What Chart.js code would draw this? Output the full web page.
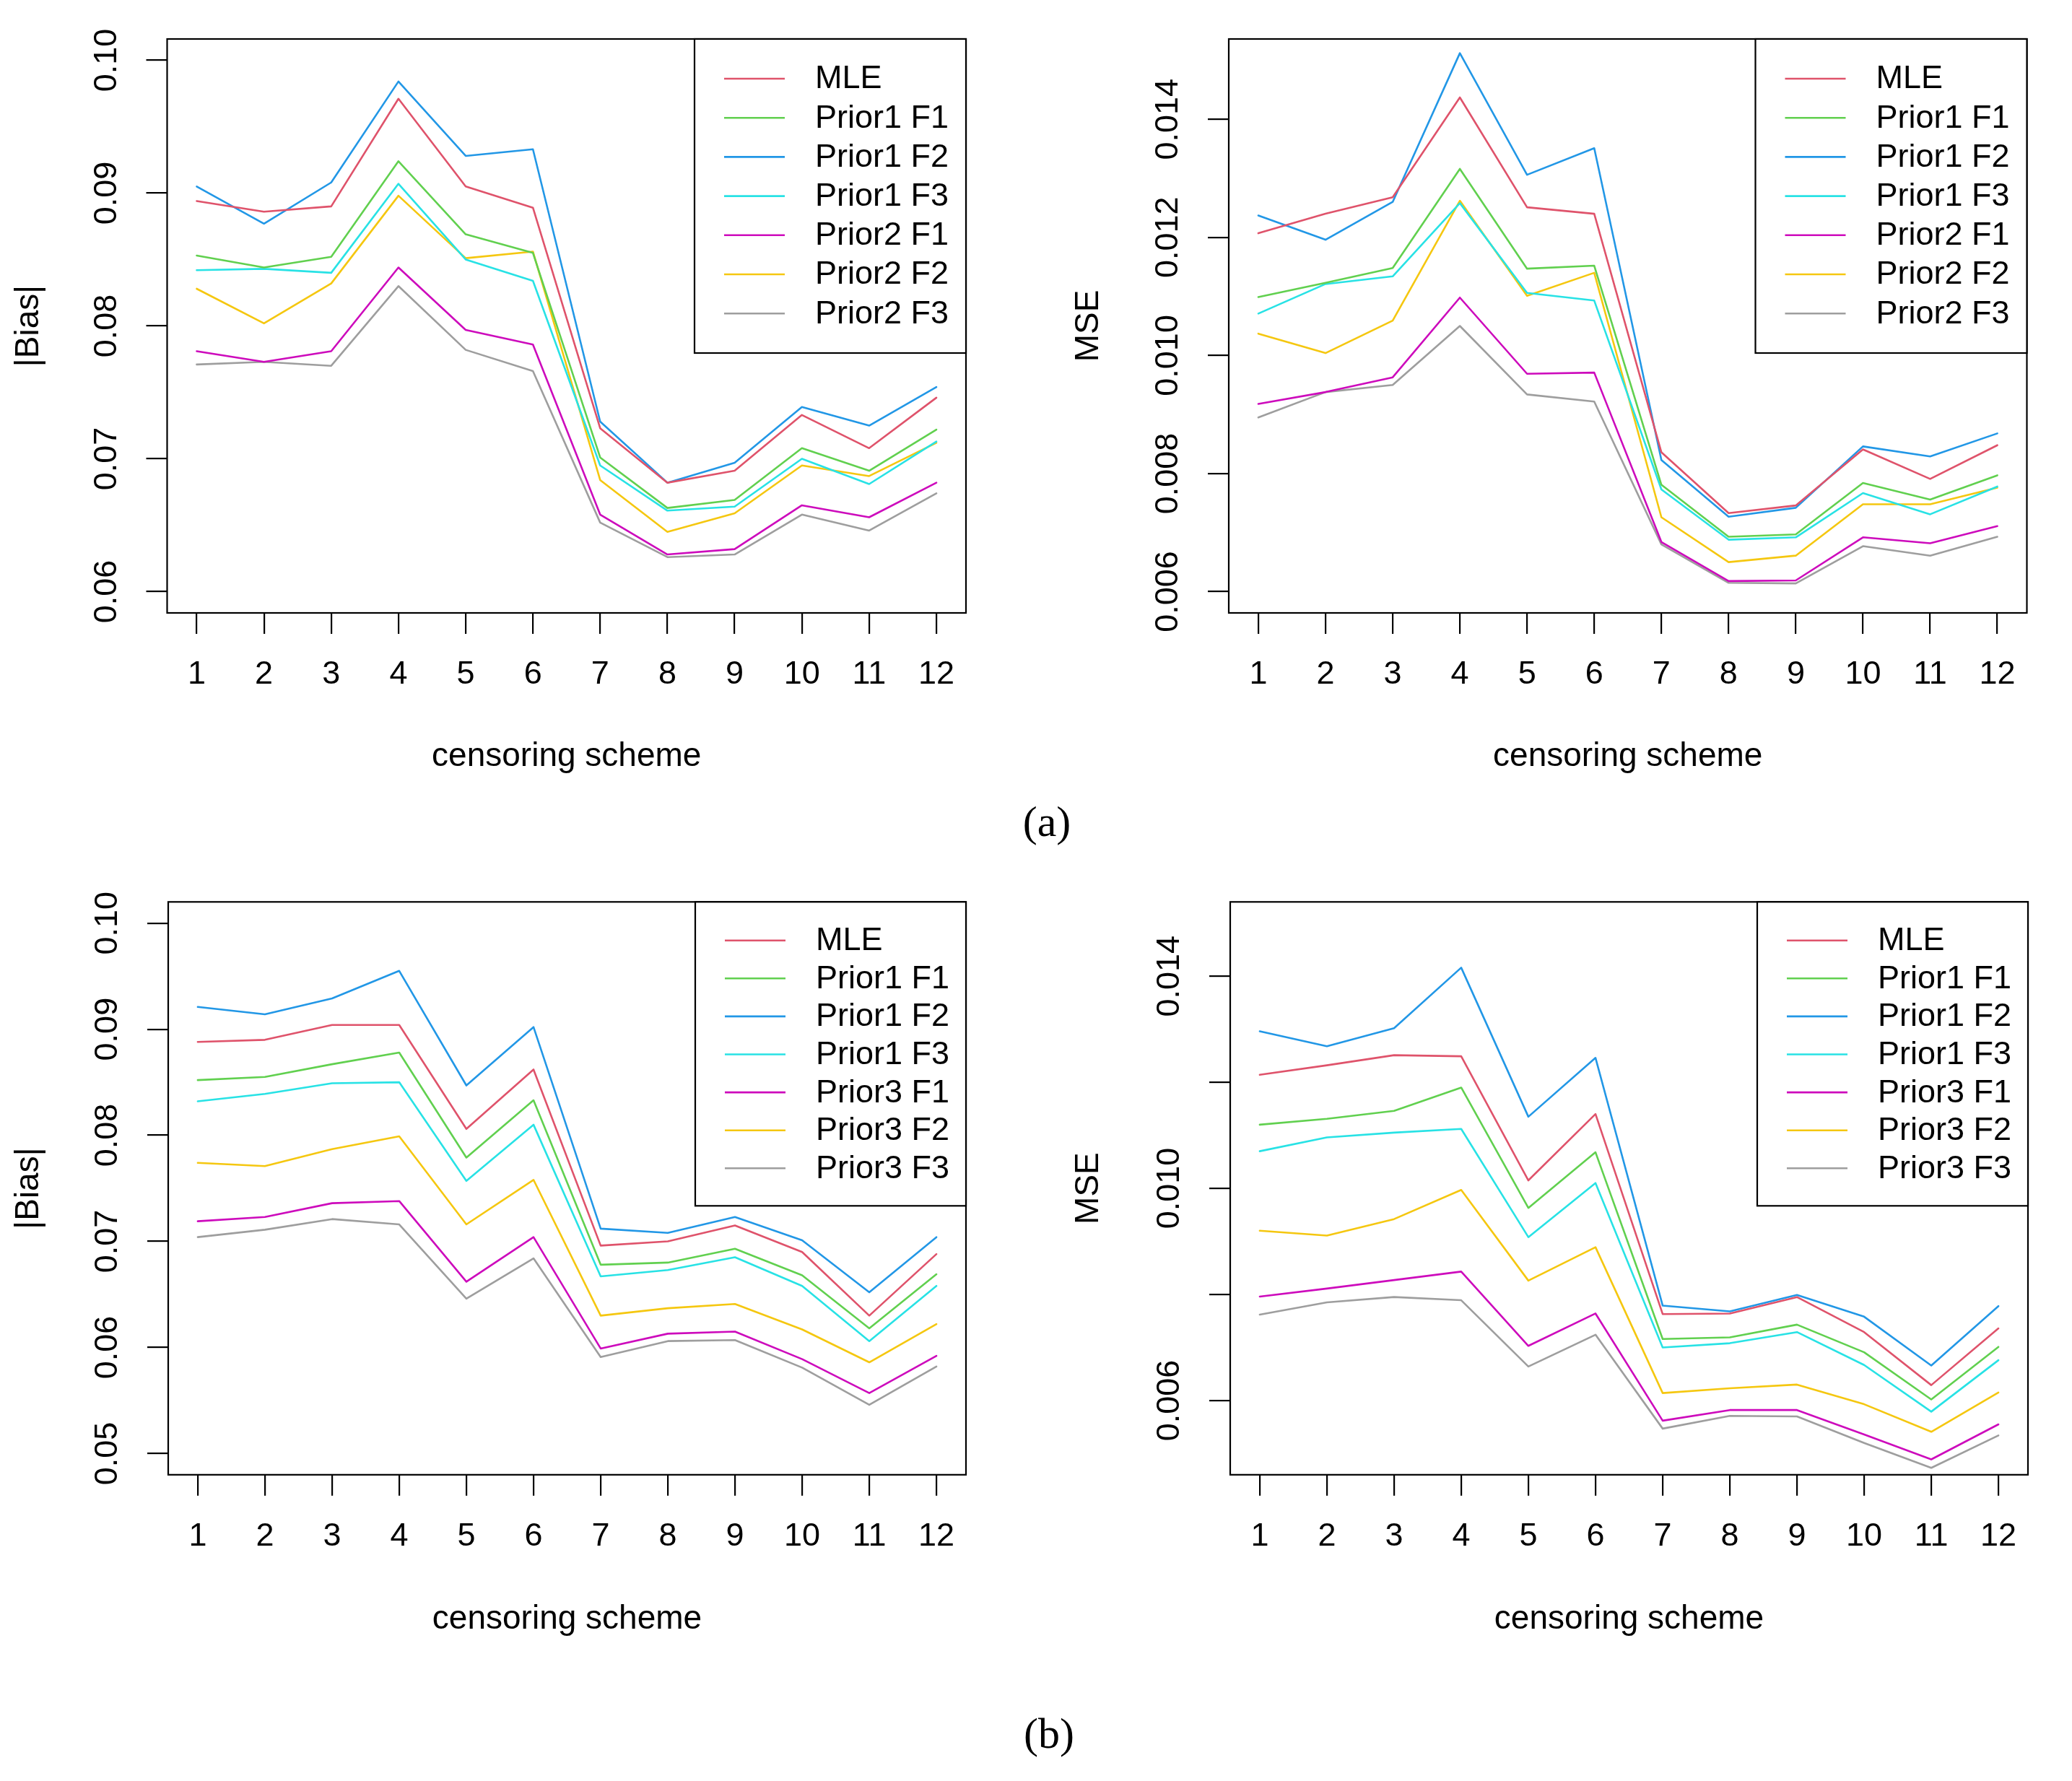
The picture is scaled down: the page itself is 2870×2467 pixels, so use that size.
<!DOCTYPE html>
<html><head><meta charset="utf-8">
<script src="https://cdn.jsdelivr.net/npm/chart.js@4.4.1/dist/chart.umd.min.js"></script>
<style>
html,body{margin:0;padding:0;background:#fff;}
body{width:2870px;height:2467px;position:relative;overflow:hidden;}
canvas{position:absolute;}
.lab{position:absolute;font-family:"Liberation Serif","DejaVu Serif",serif;font-size:60px;line-height:60px;width:200px;text-align:center;color:#000;}
</style></head><body>
<canvas id="c1" style="left:0px;top:0px"></canvas>
<canvas id="c2" style="left:1435px;top:0px"></canvas>
<canvas id="c3" style="left:0px;top:1200px"></canvas>
<canvas id="c4" style="left:1435px;top:1200px"></canvas>
<div class="lab" style="left:1350px;top:1108px">(a)</div>
<div class="lab" style="left:1353px;top:2371px">(b)</div>
<script>
// ---------- DATA ----------
const categories = [1,2,3,4,5,6,7,8,9,10,11,12];
const labelsA = ["MLE","Prior1 F1","Prior1 F2","Prior1 F3","Prior2 F1","Prior2 F2","Prior2 F3"];
const labelsB = ["MLE","Prior1 F1","Prior1 F2","Prior1 F3","Prior3 F1","Prior3 F2","Prior3 F3"];
const seriesColors = ["#DF536B","#61D04F","#2297E6","#28E2E5","#CD0BBC","#F5C710","#9E9E9E"];

// (a) |Bias|
const biasA_MLE = [0.0894,0.0886,0.0890,0.0971,0.0905,0.0889,0.0723,0.0682,0.0691,0.0733,0.0708,0.0746];
const biasA_P1F1 = [0.0853,0.0844,0.0852,0.0924,0.0869,0.0855,0.0701,0.0663,0.0669,0.0708,0.0691,0.0722];
const biasA_P1F2 = [0.0905,0.0877,0.0908,0.0984,0.0928,0.0933,0.0728,0.0682,0.0697,0.0739,0.0725,0.0754];
const biasA_P1F3 = [0.0842,0.0843,0.0840,0.0907,0.0850,0.0834,0.0695,0.0661,0.0664,0.0700,0.0681,0.0713];
const biasA_P2F1 = [0.0781,0.0773,0.0781,0.0844,0.0797,0.0786,0.0658,0.0628,0.0632,0.0665,0.0656,0.0682];
const biasA_P2F2 = [0.0828,0.0802,0.0832,0.0898,0.0851,0.0856,0.0684,0.0645,0.0659,0.0695,0.0687,0.0712];
const biasA_P2F3 = [0.0771,0.0773,0.0770,0.0830,0.0782,0.0766,0.0652,0.0626,0.0628,0.0658,0.0646,0.0674];

// (a) MSE
const mseA_MLE = [0.01207,0.01240,0.01268,0.01437,0.01251,0.01240,0.00836,0.00733,0.00746,0.00841,0.00791,0.00848];
const mseA_P1F1 = [0.01099,0.01123,0.01148,0.01316,0.01147,0.01152,0.00781,0.00693,0.00697,0.00784,0.00756,0.00797];
const mseA_P1F2 = [0.01237,0.01196,0.01260,0.01512,0.01306,0.01351,0.00823,0.00727,0.00742,0.00846,0.00829,0.00868];
const mseA_P1F3 = [0.01071,0.01121,0.01134,0.01258,0.01106,0.01093,0.00773,0.00688,0.00692,0.00767,0.00731,0.00778];
const mseA_P2F1 = [0.00918,0.00938,0.00963,0.01098,0.00969,0.00971,0.00684,0.00618,0.00619,0.00692,0.00682,0.00711];
const mseA_P2F2 = [0.01037,0.01004,0.01059,0.01262,0.01101,0.01140,0.00726,0.00650,0.00661,0.00748,0.00748,0.00776];
const mseA_P2F3 = [0.00895,0.00938,0.00950,0.01050,0.00934,0.00922,0.00680,0.00615,0.00614,0.00677,0.00661,0.00693];

// (b) |Bias|
const biasB_MLE = [0.0888,0.0890,0.0904,0.0904,0.0806,0.0862,0.0696,0.0700,0.0715,0.0690,0.0630,0.0688];
const biasB_P1F1 = [0.0852,0.0855,0.0867,0.0878,0.0779,0.0833,0.0678,0.0680,0.0693,0.0668,0.0618,0.0669];
const biasB_P1F2 = [0.0921,0.0914,0.0929,0.0955,0.0847,0.0902,0.0712,0.0708,0.0723,0.0701,0.0652,0.0704];
const biasB_P1F3 = [0.0832,0.0839,0.0849,0.0850,0.0757,0.0810,0.0667,0.0673,0.0685,0.0658,0.0606,0.0658];
const biasB_P3F1 = [0.0719,0.0723,0.0736,0.0738,0.0662,0.0704,0.0599,0.0613,0.0615,0.0589,0.0557,0.0592];
const biasB_P3F2 = [0.0774,0.0771,0.0787,0.0799,0.0716,0.0758,0.0630,0.0637,0.0641,0.0617,0.0586,0.0622];
const biasB_P3F3 = [0.0704,0.0711,0.0721,0.0716,0.0646,0.0684,0.0591,0.0606,0.0607,0.0581,0.0546,0.0582];

// (b) MSE
const mseB_MLE = [0.01214,0.01232,0.01251,0.01249,0.01015,0.01140,0.00763,0.00764,0.00795,0.00729,0.00629,0.00736];
const mseB_P1F1 = [0.01120,0.01131,0.01146,0.01190,0.00963,0.01068,0.00716,0.00719,0.00743,0.00691,0.00602,0.00701];
const mseB_P1F2 = [0.01296,0.01268,0.01302,0.01416,0.01135,0.01246,0.00779,0.00768,0.00799,0.00758,0.00666,0.00778];
const mseB_P1F3 = [0.01070,0.01096,0.01105,0.01112,0.00908,0.01010,0.00700,0.00708,0.00729,0.00667,0.00579,0.00676];
const mseB_P3F1 = [0.00796,0.00811,0.00827,0.00843,0.00703,0.00764,0.00562,0.00582,0.00582,0.00536,0.00489,0.00555];
const mseB_P3F2 = [0.00920,0.00911,0.00942,0.00997,0.00826,0.00889,0.00614,0.00623,0.00630,0.00593,0.00541,0.00615];
const mseB_P3F3 = [0.00762,0.00785,0.00795,0.00789,0.00664,0.00724,0.00547,0.00571,0.00570,0.00520,0.00473,0.00534];

// Tick values / labels
const biasTicksA = [0.06,0.07,0.08,0.09,0.10];
const biasTickLabelsA = ["0.06","0.07","0.08","0.09","0.10"];
const mseTicksA = [0.006,0.008,0.010,0.012,0.014];
const mseTickLabelsA = ["0.006","0.008","0.010","0.012","0.014"];
const biasTicksB = [0.05,0.06,0.07,0.08,0.09,0.10];
const biasTickLabelsB = ["0.05","0.06","0.07","0.08","0.09","0.10"];
const mseTicksB = [0.006,0.008,0.010,0.012,0.014];
const mseTickLabelsB = ["0.006","","0.010","","0.014"];

// ---------- DRAWING ----------
const FONT = '"Liberation Sans", Arial, Helvetica, sans-serif';
const FS = 45;      // ticks, legend
const FS_T = 46;    // axis titles

function makePanel(id, p) {
  const canvas = document.getElementById(id);
  canvas.width = p.W; canvas.height = p.H;
  const a = p.area;
  const lineH = FS_T * 1.2;
  const datasets = p.series.map((s, i) => ({
    label: p.labels[i],
    data: s.map((v, j) => ({x: categories[j], y: v})),
    borderColor: seriesColors[i],
    backgroundColor: seriesColors[i],
    borderWidth: 2.6,
    pointRadius: 0,
    tension: 0,
    fill: false,
    borderJoinStyle: 'round',
    borderCapStyle: 'round'
  }));
  const framePlugin = {
    id: 'frame',
    afterDatasetsDraw(chart) {
      const ctx = chart.ctx, ca = chart.chartArea;
      ctx.save();
      ctx.strokeStyle = '#000'; ctx.lineWidth = 2.2;
      ctx.strokeRect(ca.left, ca.top, ca.right - ca.left, ca.bottom - ca.top);
      // legend
      const L = p.legend;
      const lx = ca.right - L.width, ly = ca.top;
      ctx.fillStyle = '#fff';
      ctx.fillRect(lx, ly, L.width, L.height);
      ctx.strokeRect(lx, ly, L.width, L.height);
      ctx.font = FS + 'px ' + FONT;
      ctx.textAlign = 'left'; ctx.textBaseline = 'middle';
      chart.data.datasets.forEach((ds, i) => {
        const yy = ly + L.first + i * L.row;
        ctx.strokeStyle = ds.borderColor; ctx.lineWidth = 2.6;
        ctx.beginPath(); ctx.moveTo(lx + 41, yy); ctx.lineTo(lx + 125, yy); ctx.stroke();
        ctx.fillStyle = '#000';
        ctx.fillText(ds.label, lx + 167, yy + 1);
      });
      // y tick labels (rotated, R style)
      const ys = chart.scales.y;
      ctx.fillStyle = '#000';
      ctx.textAlign = 'center'; ctx.textBaseline = 'middle';
      p.yTicks.forEach((v, i) => {
        const t = p.yTickLabels[i];
        if (!t) return;
        const py = ys.getPixelForValue(v);
        ctx.save();
        ctx.translate(ca.left - 83, py);
        ctx.rotate(-Math.PI / 2);
        ctx.fillText(t, 0, 0);
        ctx.restore();
      });
      ctx.restore();
    }
  };
  return new Chart(canvas, {
    type: 'line',
    data: { datasets },
    options: {
      responsive: false, animation: false, devicePixelRatio: 1,
      layout: { padding: { left: 0, top: a.top, right: p.W - a.right, bottom: 0 } },
      plugins: { legend: { display: false }, tooltip: { enabled: false }, title: { display: false } },
      scales: {
        x: {
          type: 'linear', min: 0.56, max: 12.44,
          afterBuildTicks(s) { s.ticks = categories.map(v => ({ value: v })); },
          afterFit(s) { s.height = p.H - a.bottom; },
          grid: { drawOnChartArea: false, drawTicks: true, tickLength: 29, color: '#000', lineWidth: 2.2, tickColor: '#000', tickWidth: 2.2 },
          border: { display: false },
          ticks: { color: '#000', font: { family: FONT, size: FS }, padding: 30, maxRotation: 0, minRotation: 0, autoSkip: false },
          title: { display: true, text: 'censoring scheme', color: '#000', font: { family: FONT, size: FS_T },
                   padding: { top: 0, bottom: (p.H - a.bottom) - p.xTitleOff - lineH / 2 } }
        },
        y: {
          type: 'linear', min: p.yMin, max: p.yMax,
          afterBuildTicks(s) { s.ticks = p.yTicks.map(v => ({ value: v })); },
          afterFit(s) { s.width = a.left; },
          grid: { drawOnChartArea: false, drawTicks: true, tickLength: 29, color: '#000', lineWidth: 2.2, tickColor: '#000', tickWidth: 2.2 },
          border: { display: false },
          ticks: { display: false },
          title: { display: true, text: p.yTitle, color: '#000', font: { family: FONT, size: FS_T },
                   padding: { top: p.yTitleX - lineH / 2, bottom: 0 } }
        }
      }
    },
    plugins: [framePlugin]
  });
}

const legendA = { width: 376, height: 435, first: 55, row: 54.2 };
const legendB = { width: 375, height: 421, first: 53.4, row: 52.6 };

makePanel('c1', {
  W: 1435, H: 1200, area: { left: 231.5, top: 54, right: 1338, bottom: 849 },
  labels: labelsA, series: [biasA_MLE, biasA_P1F1, biasA_P1F2, biasA_P1F3, biasA_P2F1, biasA_P2F2, biasA_P2F3],
  yMin: 0.0584, yMax: 0.1016, yTicks: biasTicksA, yTickLabels: biasTickLabelsA,
  yTitle: '|Bias|', yTitleX: 40, xTitleOff: 199, legend: legendA
});
makePanel('c2', {
  W: 1435, H: 1200, area: { left: 267, top: 54, right: 1372.5, bottom: 849 },
  labels: labelsA, series: [mseA_MLE, mseA_P1F1, mseA_P1F2, mseA_P1F3, mseA_P2F1, mseA_P2F2, mseA_P2F3],
  yMin: 0.00564, yMax: 0.01536, yTicks: mseTicksA, yTickLabels: mseTickLabelsA,
  yTitle: 'MSE', yTitleX: 73, xTitleOff: 199, legend: legendA
});
makePanel('c3', {
  W: 1435, H: 1150, area: { left: 233, top: 49.3, right: 1338, bottom: 842.8 },
  labels: labelsB, series: [biasB_MLE, biasB_P1F1, biasB_P1F2, biasB_P1F3, biasB_P3F1, biasB_P3F2, biasB_P3F3],
  yMin: 0.048, yMax: 0.102, yTicks: biasTicksB, yTickLabels: biasTickLabelsB,
  yTitle: '|Bias|', yTitleX: 40, xTitleOff: 201, legend: legendB
});
makePanel('c4', {
  W: 1435, H: 1150, area: { left: 269, top: 49.3, right: 1374, bottom: 842.8 },
  labels: labelsB, series: [mseB_MLE, mseB_P1F1, mseB_P1F2, mseB_P1F3, mseB_P3F1, mseB_P3F2, mseB_P3F3],
  yMin: 0.0046, yMax: 0.0154, yTicks: mseTicksB, yTickLabels: mseTickLabelsB,
  yTitle: 'MSE', yTitleX: 73, xTitleOff: 201, legend: legendB
});
</script>
</body></html>
